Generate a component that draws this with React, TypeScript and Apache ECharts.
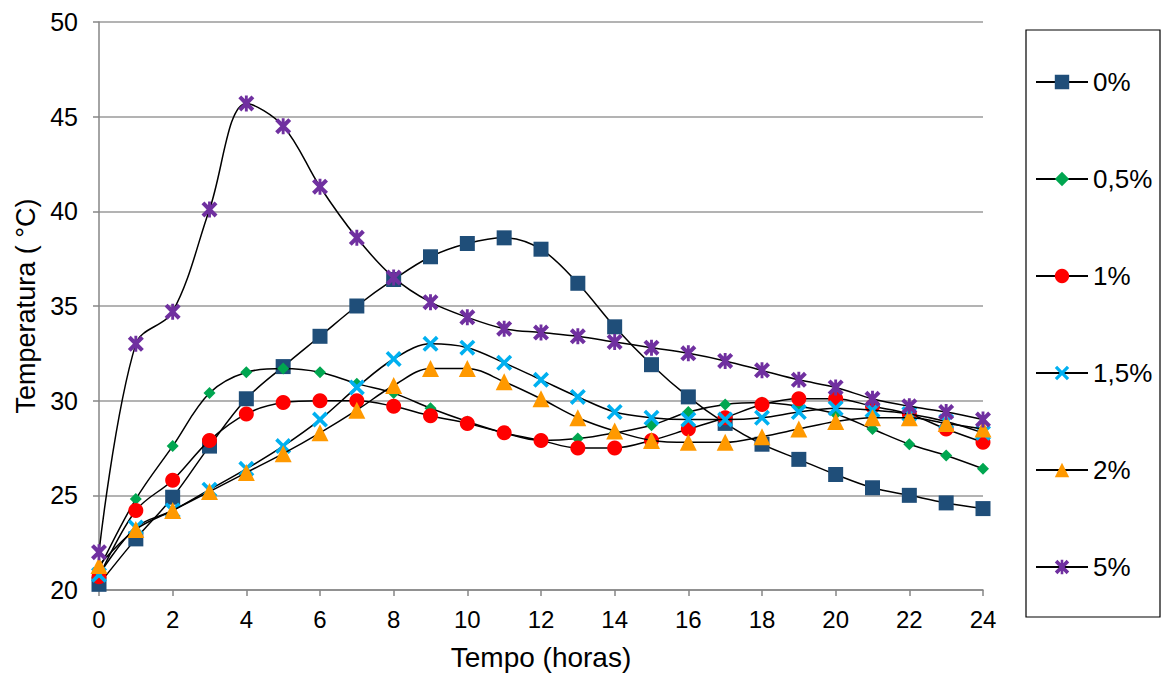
import React, { useEffect, useRef } from "react";
import * as echarts from "echarts";

const hours = [0, 1, 2, 3, 4, 5, 6, 7, 8, 9, 10, 11, 12, 13, 14, 15, 16, 17, 18, 19, 20, 21, 22, 23, 24];
const seriesNames = ["0%", "0,5%", "1%", "1,5%", "2%", "5%"];
const s0 = [20.3, 22.7, 24.9, 27.6, 30.1, 31.8, 33.4, 35.0, 36.4, 37.6, 38.3, 38.6, 38.0, 36.2, 33.9, 31.9, 30.2, 28.8, 27.7, 26.9, 26.1, 25.4, 25.0, 24.6, 24.3];
const s05 = [21.1, 24.8, 27.6, 30.4, 31.5, 31.7, 31.5, 30.9, 30.4, 29.6, 28.9, 28.3, 27.9, 28.0, 28.3, 28.7, 29.4, 29.8, 29.9, 29.7, 29.3, 28.5, 27.7, 27.1, 26.4];
const s1 = [20.7, 24.2, 25.8, 27.9, 29.3, 29.9, 30.0, 30.0, 29.7, 29.2, 28.8, 28.3, 27.9, 27.5, 27.5, 27.9, 28.5, 29.1, 29.8, 30.1, 30.1, 29.7, 29.3, 28.5, 27.8];
const s15 = [20.8, 23.3, 24.2, 25.3, 26.4, 27.6, 29.0, 30.7, 32.2, 33.0, 32.8, 32.0, 31.1, 30.2, 29.4, 29.1, 29.0, 29.0, 29.1, 29.4, 29.6, 29.5, 29.3, 28.9, 28.3];
const s2 = [21.3, 23.2, 24.2, 25.2, 26.2, 27.2, 28.3, 29.5, 30.8, 31.7, 31.7, 31.0, 30.1, 29.1, 28.4, 27.9, 27.8, 27.8, 28.1, 28.5, 28.9, 29.1, 29.1, 28.8, 28.5];
const s5 = [22.0, 33.0, 34.7, 40.1, 45.7, 44.5, 41.3, 38.6, 36.5, 35.2, 34.4, 33.8, 33.6, 33.4, 33.1, 32.8, 32.5, 32.1, 31.6, 31.1, 30.7, 30.1, 29.7, 29.4, 29.0];
const yTicks = [20, 25, 30, 35, 40, 45, 50];

const allValues = [s0, s05, s1, s15, s2, s5];
const colors = ["#1F4E79", "#00A650", "#FF0000", "#00B0F0", "#FF9900", "#7030A0"];
const crossPath = "path://M0,1.6 L1.6,0 L5,3.4 L8.4,0 L10,1.6 L6.6,5 L10,8.4 L8.4,10 L5,6.6 L1.6,10 L0,8.4 L3.4,5 Z";
const starPath = "path://M0,1.8 L1.8,0 L5,3.2 L8.2,0 L10,1.8 L6.8,5 L10,8.2 L8.2,10 L5,6.8 L1.8,10 L0,8.2 L3.2,5 Z M4.1,0 L5.9,0 L5.9,10 L4.1,10 Z";
const symbols = ["rect", "diamond", "circle", crossPath, "triangle", starPath];
const symbolSizes = [15, 12, 15, 16, 17, 16];

export default function App() {
  const ref = useRef<HTMLDivElement>(null);
  useEffect(() => {
    if (!ref.current) return;
    const chart = echarts.init(ref.current, null, { renderer: "svg" });
    const font = "Liberation Sans, Arial, sans-serif";
    chart.setOption({
      animation: false,
      textStyle: { fontFamily: font },
      grid: { left: 99, right: 179, top: 22, bottom: 86 },
      xAxis: {
        type: "value",
        min: 0,
        max: 24,
        interval: 2,
        name: "Tempo (horas)",
        nameLocation: "middle",
        nameGap: 53,
        nameTextStyle: { fontSize: 28, color: "#000", fontFamily: font },
        axisLine: { show: true, onZero: false, lineStyle: { color: "#868686", width: 1.5 } },
        axisTick: { show: true, length: 6, lineStyle: { color: "#868686", width: 1.5 } },
        axisLabel: { fontSize: 24, color: "#000", margin: 17, fontFamily: font },
        splitLine: { show: false },
      },
      yAxis: {
        type: "value",
        min: yTicks[0],
        max: yTicks[yTicks.length - 1],
        interval: 5,
        name: "Temperatura ( °C)",
        nameLocation: "middle",
        nameGap: 60,
        nameTextStyle: { fontSize: 27, color: "#000", fontFamily: font },
        axisLine: { show: true, lineStyle: { color: "#868686", width: 1.5 } },
        axisTick: { show: true, length: 6, lineStyle: { color: "#868686", width: 1.5 } },
        axisLabel: { fontSize: 25, color: "#000", margin: 21, fontFamily: font },
        splitLine: { show: true, lineStyle: { color: "#9A9A9A", width: 1.5 } },
      },
      legend: {
        orient: "vertical",
        left: 1035,
        top: 69,
        itemWidth: 52,
        itemHeight: 18,
        itemGap: 71,
        padding: 0,
        textStyle: { fontSize: 26, lineHeight: 26, color: "#000", fontFamily: font },
        data: seriesNames,
      },
      graphic: [
        {
          type: "rect",
          shape: { x: 1026, y: 30, width: 134, height: 587 },
          style: { fill: "none", stroke: "#000", lineWidth: 1.2 },
          silent: true,
        },
      ],
      series: seriesNames.map((name, i) => ({
        name,
        type: "line",
        smooth: 0.35,
        data: hours.map((h, j) => [h, allValues[i][j]]),
        symbol: symbols[i],
        symbolSize: symbolSizes[i],
        showSymbol: true,
        lineStyle: { color: "#000", width: 1.5 },
        itemStyle: { color: colors[i], borderWidth: 0 },
        z: 2 + i,
      })),
    });
    return () => chart.dispose();
  }, []);
  return <div ref={ref} style={{ position: "fixed", left: 0, top: 0, width: 1162, height: 676, background: "#fff" }} />;
}
